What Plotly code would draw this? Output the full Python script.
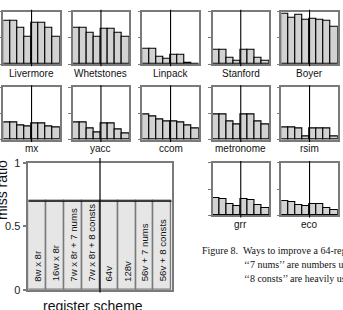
import plotly.graph_objects as go

W, H = 343, 310

# ---------------- data ----------------
schemes = ["8w x 8r", "16w x 8r", "7w x 8r + 7 nums", "7w x 8r + 8 consts",
           "64v", "128v", "56v + 7 nums", "56v + 8 consts"]
legend_values = [0.7] * 8

benchmarks = ["Livermore", "Whetstones", "Linpack", "Stanford", "Boyer",
              "mx", "yacc", "ccom", "metronome", "rsim", "grr", "eco"]
livermore = [0.82, 0.82, 0.70, 0.52, 0.79, 0.79, 0.70, 0.52]
whetstones = [0.69, 0.69, 0.60, 0.53, 0.68, 0.68, 0.59, 0.53]
linpack = [0.29, 0.29, 0.14, 0.10, 0.18, 0.18, 0.03, 0.01]
stanford = [0.28, 0.27, 0.12, 0.07, 0.27, 0.27, 0.12, 0.07]
boyer = [0.96, 0.89, 0.945, 0.85, 0.86, 0.855, 0.82, 0.72]
mx = [0.34, 0.34, 0.27, 0.26, 0.32, 0.32, 0.25, 0.235]
yacc = [0.335, 0.335, 0.21, 0.14, 0.32, 0.32, 0.20, 0.12]
ccom = [0.48, 0.445, 0.38, 0.36, 0.35, 0.33, 0.27, 0.22]
metronome = [0.49, 0.49, 0.36, 0.30, 0.49, 0.49, 0.36, 0.30]
rsim = [0.23, 0.23, 0.21, 0.063, 0.225, 0.225, 0.225, 0.063]
grr = [0.34, 0.32, 0.225, 0.175, 0.31, 0.30, 0.20, 0.15]
eco = [0.27, 0.25, 0.19, 0.17, 0.21, 0.21, 0.14, 0.11]
series = [livermore, whetstones, linpack, stanford, boyer,
          mx, yacc, ccom, metronome, rsim, grr, eco]

caption_lines = ["Figure 8.  Ways to improve a 64-register file.",
                 "\u2018\u20187 nums\u2019\u2019 are numbers used most often.",
                 "\u2018\u20188 consts\u2019\u2019 are heavily used constants."]

# ---------------- layout (pixels) ----------------
col_left = [3.3, 72.7, 142.3, 212.5, 281.3]
panel_w = 56.5
row_top = [6.0, 84.7, 163.3]
panel_h = 54.5
slots = [(0, c) for c in range(5)] + [(1, c) for c in range(5)] + [(2, 3), (2, 4)]

def xd(a, b):
    return [a / W, b / W]

def yd(top, bottom):
    return [1 - bottom / H, 1 - top / H]

GRAY = "#7a7a7a"
fig = go.Figure()
layout = {}
annotations = []
shapes = []
idx = list(range(len(schemes)))

for i, (name, vals) in enumerate(zip(benchmarks, series)):
    r, c = slots[i]
    n = i + 1
    xa, ya = f"xaxis{n}" if n > 1 else "xaxis", f"yaxis{n}" if n > 1 else "yaxis"
    xr, yr = f"x{n}" if n > 1 else "x", f"y{n}" if n > 1 else "y"
    x0 = col_left[c]
    y0 = row_top[r]
    fig.add_trace(go.Bar(x=idx, y=vals, width=1, xaxis=xr, yaxis=yr,
                         marker=dict(color="#d2d2d2", line=dict(color="black", width=1.1)),
                         showlegend=False, hoverinfo="skip"))
    layout[xa] = dict(domain=xd(x0, x0 + panel_w), range=[-0.5, 7.5], showgrid=False,
                      zeroline=False, showline=True, mirror=True, linecolor=GRAY, linewidth=1.5,
                      showticklabels=False, ticks="", anchor=yr, fixedrange=True)
    layout[ya] = dict(domain=yd(y0, y0 + panel_h), range=[0, 1], showgrid=False,
                      zeroline=False, showline=True, mirror=True, linecolor=GRAY, linewidth=1.5,
                      tickvals=[0, 0.5, 1], ticks="outside", ticklen=3, tickcolor=GRAY,
                      tickwidth=1.2, showticklabels=False, anchor=xr, fixedrange=True)
    shapes.append(dict(type="line", xref=xr, yref=f"{yr} domain", x0=3.5, x1=3.5,
                       y0=-0.04, y1=1.04, line=dict(color="black", width=1.1)))
    annotations.append(dict(text=name, xref="paper", yref="paper",
                            x=(x0 + panel_w / 2) / W, y=1 - (y0 + panel_h + 9.5) / H,
                            xanchor="center", yanchor="middle", showarrow=False,
                            font=dict(family="Liberation Sans, Arial", size=10, color="#111")))

# ---------------- big legend chart ----------------
n = len(benchmarks) + 1
bx0, bx1, by0, by1 = 28.3, 171.7, 163.3, 295.3
fig.add_trace(go.Bar(x=idx, y=legend_values, width=1, xaxis=f"x{n}", yaxis=f"y{n}",
                     marker=dict(color="#e6e6e6", line=dict(color=GRAY, width=1.5)),
                     showlegend=False, hoverinfo="skip"))
layout[f"xaxis{n}"] = dict(domain=xd(bx0, bx1), range=[-0.5, 7.5], showgrid=False,
                           zeroline=False, showline=True, mirror=True, linecolor=GRAY,
                           linewidth=1.5, showticklabels=False, ticks="", anchor=f"y{n}",
                           fixedrange=True)
layout[f"yaxis{n}"] = dict(domain=yd(by0, by1), range=[0, 1], showgrid=False, zeroline=False,
                           showline=True, mirror=True, linecolor=GRAY, linewidth=1.5,
                           tickvals=[0, 0.5, 1], ticktext=["0", "0.5", "1"], ticks="outside",
                           ticklen=4, tickcolor=GRAY, tickwidth=1.5,
                           tickfont=dict(family="Liberation Sans, Arial", size=11, color="#222"),
                           anchor=f"x{n}", fixedrange=True)
top = max(legend_values)
shapes.append(dict(type="line", xref=f"x{n}", yref=f"y{n}", x0=-0.5, x1=7.5, y0=top, y1=top,
                   line=dict(color="black", width=1.2)))
shapes.append(dict(type="line", xref=f"x{n}", yref=f"y{n} domain", x0=3.5, x1=3.5,
                   y0=-0.02, y1=1.04, line=dict(color="black", width=1.2)))
for k, s in zip(idx, schemes):
    annotations.append(dict(text=s, xref=f"x{n}", yref=f"y{n}", x=k, y=0.05,
                            xanchor="center", yanchor="bottom", textangle=-90, showarrow=False,
                            font=dict(family="Liberation Sans, Arial", size=9.6, color="#111")))
annotations.append(dict(text="miss ratio", xref="paper", yref="paper", x=1.5 / W,
                        y=1 - 192 / H, textangle=-90, xanchor="center", yanchor="middle",
                        showarrow=False,
                        font=dict(family="Liberation Sans, Arial", size=14, color="#111")))
annotations.append(dict(text="register scheme", xref="paper", yref="paper", x=93 / W,
                        y=1 - 312 / H, xanchor="center", yanchor="middle", showarrow=False,
                        font=dict(family="Liberation Sans, Arial", size=14, color="#111")))

# ---------------- caption ----------------
cap_x = [200, 241.5, 241.5]
cap_y = [254, 268.5, 283]
for t, cx, cy in zip(caption_lines, cap_x, cap_y):
    annotations.append(dict(text=t, xref="paper", yref="paper", x=cx / W, y=1 - cy / H,
                            xanchor="left", yanchor="middle", showarrow=False,
                            font=dict(family="Liberation Serif, Times New Roman", size=10,
                                      color="#111")))

fig.update_layout(width=W, height=H, margin=dict(l=0, r=0, t=0, b=0),
                  paper_bgcolor="white", plot_bgcolor="white", bargap=0,
                  annotations=annotations, shapes=shapes, **layout)
fig.write_html("out.html", config={"displayModeBar": False})
